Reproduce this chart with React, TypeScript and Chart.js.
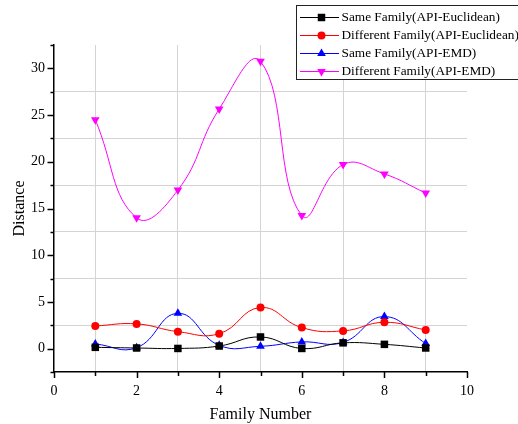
import React, { useEffect, useRef } from 'react';
import { Chart, registerables } from 'chart.js';

Chart.register(...registerables);

const familyNumbers = [1, 2, 3, 4, 5, 6, 7, 8, 9];
const sameEuclidean = [0.14, 0.07, 0.02, 0.28, 1.25, 0.02, 0.62, 0.46, 0.07];
const diffEuclidean = [2.43, 2.65, 1.82, 1.6, 4.4, 2.25, 1.9, 2.82, 2.0];
const sameEMD = [0.5, 0.1, 3.78, 0.35, 0.25, 0.72, 0.67, 3.43, 0.54];
const diffEMD = [24.5, 14.0, 16.97, 25.65, 30.76, 14.25, 19.7, 18.7, 16.65];

const seriesLabels = [
  'Same Family(API-Euclidean)',
  'Different Family(API-Euclidean)',
  'Same Family(API-EMD)',
  'Different Family(API-EMD)',
];
const xMajorTicks = [0, 2, 4, 6, 8, 10];
const yMajorTicks = [0, 5, 10, 15, 20, 25, 30];

const FONT = '"Liberation Serif", "Times New Roman", serif';

function drawMarker(ctx: CanvasRenderingContext2D, style: string, rot: number, x: number, y: number, r: number, color: string) {
  ctx.save();
  ctx.fillStyle = color;
  ctx.beginPath();
  if (style === 'rect') {
    const s = Math.SQRT1_2 * r;
    ctx.rect(x - s, y - s, 2 * s, 2 * s);
  } else if (style === 'circle') {
    ctx.arc(x, y, r, 0, Math.PI * 2);
  } else {
    const base = (rot * Math.PI) / 180;
    for (let i = 0; i < 3; i++) {
      const a = base - Math.PI / 2 + (i * 2 * Math.PI) / 3;
      const px = x + Math.cos(a) * r;
      const py = y + Math.sin(a) * r;
      if (i === 0) ctx.moveTo(px, py);
      else ctx.lineTo(px, py);
    }
    ctx.closePath();
  }
  ctx.fill();
  ctx.restore();
}

const axisTicksPlugin = {
  id: 'axisTicks',
  afterDraw(chart: any) {
    const { ctx, chartArea, scales } = chart;
    ctx.save();
    ctx.strokeStyle = '#000';
    ctx.lineWidth = 1.5;
    scales.x.ticks.forEach((t: any) => {
      const px = Math.round(scales.x.getPixelForValue(t.value)) + 0.5;
      const len = xMajorTicks.includes(t.value) ? 6 : 4;
      ctx.beginPath();
      ctx.moveTo(px, chartArea.bottom);
      ctx.lineTo(px, chartArea.bottom + len);
      ctx.stroke();
    });
    scales.y.ticks.forEach((t: any) => {
      const py = Math.round(scales.y.getPixelForValue(t.value)) + 0.5;
      const len = yMajorTicks.includes(t.value) ? 6.5 : 3.5;
      ctx.beginPath();
      ctx.moveTo(chartArea.left, py);
      ctx.lineTo(chartArea.left - len, py);
      ctx.stroke();
    });
    ctx.restore();
  },
};

const boxLegendPlugin = {
  id: 'boxLegend',
  afterDraw(chart: any) {
    const { ctx } = chart;
    const left = 296.5;
    const top = 5.5;
    ctx.save();
    ctx.fillStyle = '#fff';
    ctx.fillRect(left, top, 260, 74);
    ctx.strokeStyle = '#222';
    ctx.lineWidth = 1;
    ctx.strokeRect(left, top, 260, 74);
    ctx.font = '13.3px ' + FONT;
    ctx.textBaseline = 'middle';
    ctx.textAlign = 'left';
    chart.data.datasets.forEach((ds: any, i: number) => {
      const y = 17 + i * 18;
      ctx.strokeStyle = ds.borderColor;
      ctx.lineWidth = 1;
      ctx.beginPath();
      ctx.moveTo(300, y + 0.5);
      ctx.lineTo(339, y + 0.5);
      ctx.stroke();
      drawMarker(ctx, ds.pointStyle, ds.pointRotation || 0, 321.5, y + 0.5, ds.pointRadius, ds.pointBackgroundColor);
      ctx.fillStyle = '#000';
      ctx.fillText(ds.label, 341.5, y + 1);
    });
    ctx.restore();
  },
};

function toPoints(values: number[]) {
  return familyNumbers.map((x, i) => ({ x, y: values[i] }));
}

export default function App() {
  const ref = useRef<HTMLCanvasElement>(null);
  useEffect(() => {
    document.body.style.margin = '0';
    const canvas = ref.current!;
    const mk = (label: string, values: number[], color: string, style: string, radius: number, rot = 0) => ({
      label,
      data: toPoints(values),
      borderColor: color,
      backgroundColor: color,
      pointBackgroundColor: color,
      pointBorderColor: color,
      pointBorderWidth: 0,
      pointStyle: style,
      pointRotation: rot,
      pointRadius: radius,
      borderWidth: 1,
      tension: 0.45,
      fill: false,
    });
    const chart = new Chart(canvas, {
      type: 'line',
      data: {
        datasets: [
          mk(seriesLabels[0], sameEuclidean, '#000000', 'rect', 5.3),
          mk(seriesLabels[1], diffEuclidean, '#ff0000', 'circle', 4),
          mk(seriesLabels[2], sameEMD, '#0000ff', 'triangle', 5),
          mk(seriesLabels[3], diffEMD, '#ff00ff', 'triangle', 5, 180),
        ] as any,
      },
      options: {
        responsive: false,
        animation: false,
        layout: { padding: { left: 0, top: 45, right: 51, bottom: 0 } },
        plugins: { legend: { display: false }, tooltip: { enabled: false } },
        scales: {
          x: {
            type: 'linear',
            min: 0,
            max: 10,
            afterFit: (s: any) => { s.height = 52; },
            ticks: {
              stepSize: 1,
              autoSkip: false,
              maxRotation: 0,
              padding: 11,
              color: '#000',
              font: { family: FONT, size: 14 },
              callback: (v: any) => (xMajorTicks.includes(v) ? String(v) : ''),
            },
            grid: {
              drawTicks: false,
              lineWidth: 1,
              color: (c: any) => (c.tick && Math.abs(c.tick.value % 2) === 1 ? '#d4d4d4' : 'rgba(0,0,0,0)'),
            },
            border: { display: true, color: '#000', width: 1.5 },
            title: {
              display: true,
              text: 'Family Number',
              color: '#000',
              font: { family: FONT, size: 16 },
              padding: { top: 0, bottom: 0 },
            },
          },
          y: {
            type: 'linear',
            min: -2.5,
            max: 32.5,
            afterFit: (s: any) => { s.width = 54; },
            ticks: {
              stepSize: 2.5,
              autoSkip: false,
              padding: 9,
              color: '#000',
              font: { family: FONT, size: 14 },
              callback: (v: any) => (yMajorTicks.includes(v) ? String(v) : ''),
            },
            grid: {
              drawTicks: false,
              lineWidth: 1,
              color: (c: any) => {
                if (!c.tick) return 'rgba(0,0,0,0)';
                const k = Math.round(c.tick.value / 2.5);
                return Math.abs(k % 2) === 1 && k > -1 && k < 13 ? '#d4d4d4' : 'rgba(0,0,0,0)';
              },
            },
            border: { display: true, color: '#000', width: 1.5 },
            title: {
              display: true,
              text: 'Distance',
              color: '#000',
              font: { family: FONT, size: 16 },
              padding: { top: 10, bottom: 0 },
            },
          },
        },
      },
      plugins: [axisTicksPlugin, boxLegendPlugin],
    });
    return () => chart.destroy();
  }, []);
  return (
    <div style={{ width: 518, height: 424 }}>
      <canvas ref={ref} width={518} height={424} />
    </div>
  );
}
